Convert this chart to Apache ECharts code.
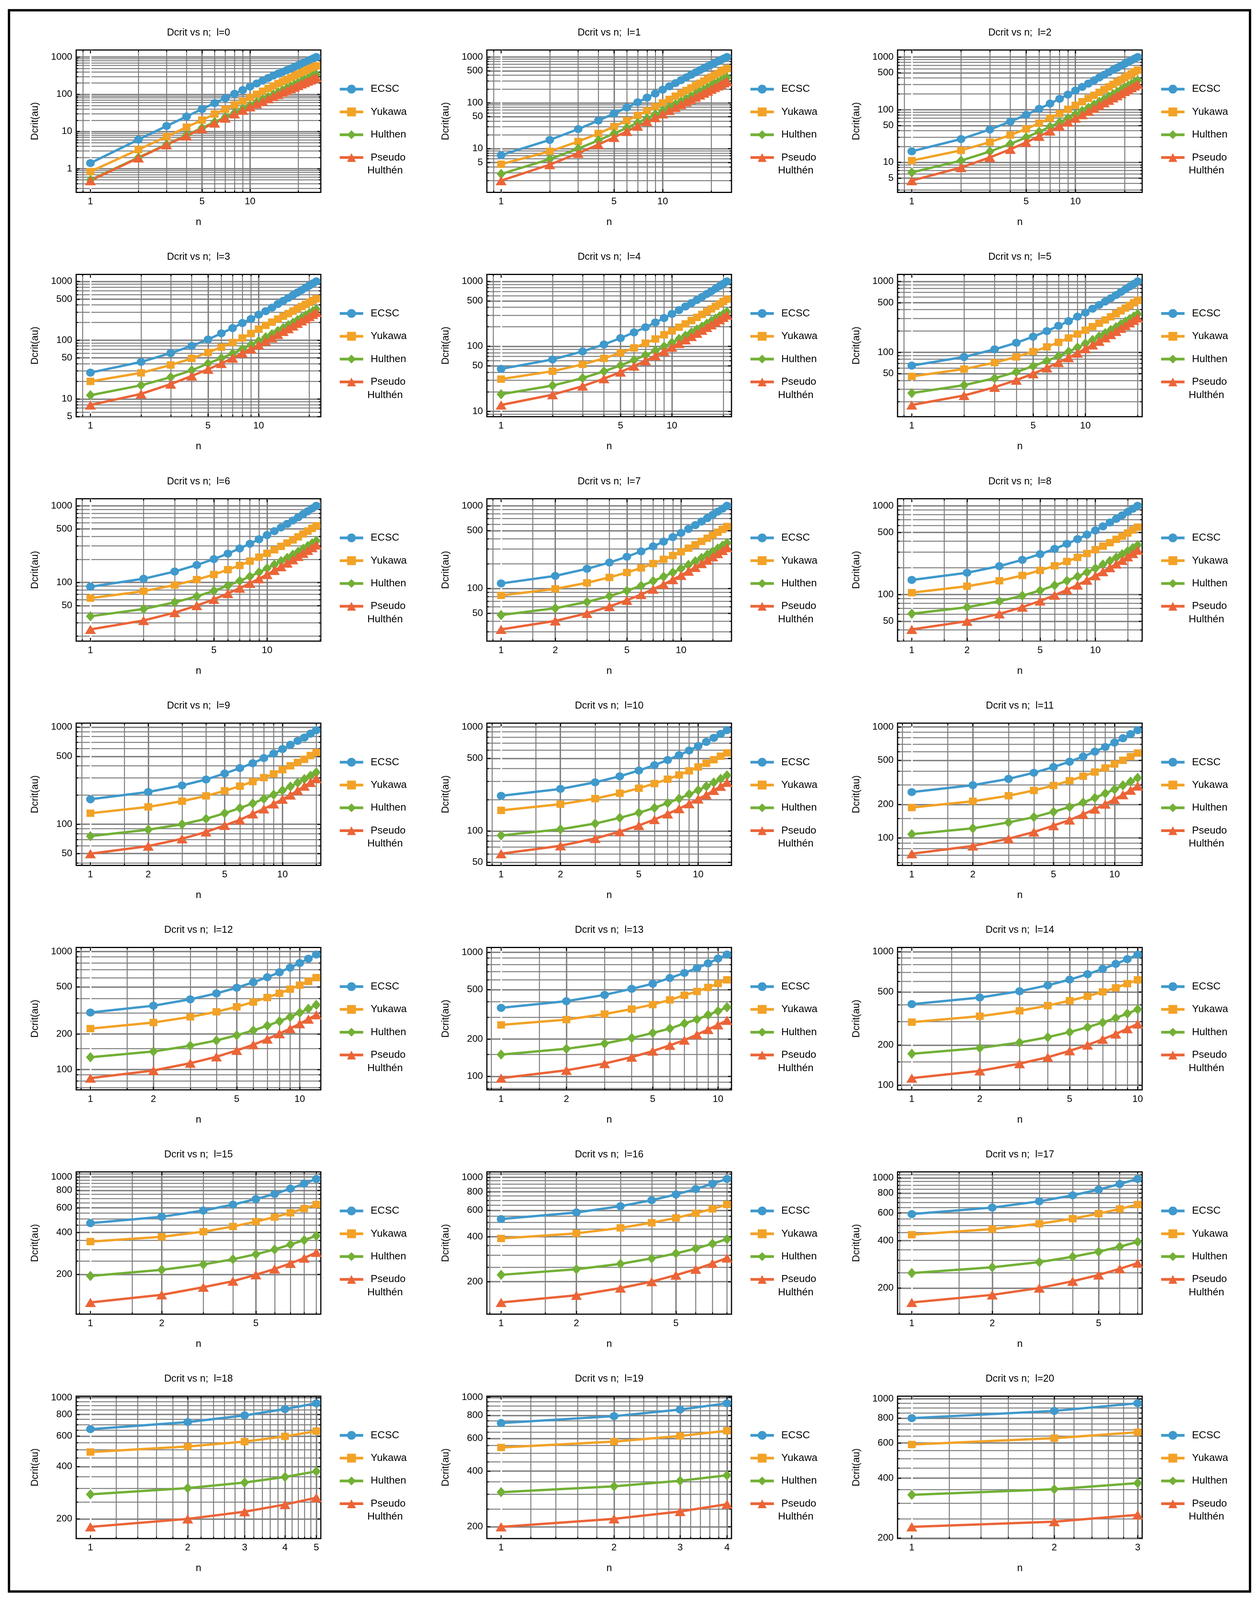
<!DOCTYPE html>
<html>
<head>
<meta charset="utf-8">
<title>Dcrit vs n</title>
<script src="https://cdn.jsdelivr.net/npm/echarts@6/dist/echarts.min.js"></script>
<style>
  html, body { margin: 0; padding: 0; background: #fff; overflow: hidden; }
  #chart { width: 3222px; height: 4350px; }
</style>
</head>
<body>
<div id="chart"></div>
<script>
'use strict';

// potentials, in legend order
var models = ['ECSC', 'Yukawa', 'Hulthen', 'Pseudo Hulthén'];

// Dcrit (au) for n = 1, 2, ... ; one row per l = 0..20
var ecsc = [
  [1.42, 6.08, 14.1, 25.3, 40.0, 58.0, 78.9, 103, 130, 161, 195, 233, 274, 318, 360, 399, 445, 492, 545, 600, 662, 721, 788, 852, 925, 1000],
  [7.2, 15.5, 26.7, 41.0, 58.5, 79.1, 103, 130, 160, 194, 230, 270, 314, 360, 410, 462, 518, 572, 628, 686, 746, 807, 870, 934, 1000],
  [16.2, 27.7, 42.1, 59.5, 80.1, 104, 131, 161, 194, 231, 271, 314, 360, 410, 462, 518, 572, 628, 686, 746, 807, 870, 934, 1000],
  [28.1, 42.7, 60.4, 80, 103, 131, 161, 196, 230, 272, 312, 358, 413, 468, 525, 585, 648, 713, 781, 852, 924, 1000],
  [45.0, 62.8, 83.5, 107, 134, 164, 197, 233, 273, 316, 362, 411, 464, 519, 578, 640, 706, 774, 846, 922, 1000],
  [64.8, 85.8, 110, 136, 166, 199, 236, 275, 318, 363, 412, 465, 520, 579, 642, 707, 775, 847, 922, 1000],
  [88.2, 112, 139, 169, 202, 238, 278, 320, 366, 415, 467, 522, 581, 643, 708, 776, 848, 923, 1000],
  [115, 142, 173, 206, 242, 281, 323, 369, 418, 470, 525, 583, 645, 710, 778, 850, 924, 1000],
  [146, 176, 209, 246, 285, 327, 373, 421, 473, 528, 586, 648, 713, 781, 852, 926, 1000],
  [181, 215, 251, 289, 333, 379, 425, 480, 535, 594, 658, 721, 781, 856, 930],
  [218, 254, 294, 336, 382, 430, 482, 537, 595, 656, 720, 787, 859, 933],
  [259, 299, 341, 387, 436, 487, 542, 600, 661, 725, 792, 863, 937],
  [304, 347, 393, 441, 493, 548, 605, 666, 730, 798, 868, 942],
  [357, 404, 454, 508, 558, 621, 682, 747, 815, 891, 960],
  [405, 454, 506, 561, 619, 680, 744, 811, 881, 954],
  [466, 518, 574, 633, 693, 754, 824, 895, 967],
  [525, 581, 640, 702, 767, 834, 905, 975],
  [589, 648, 710, 775, 842, 914, 985],
  [658, 723, 790, 859, 928],
  [728, 793, 861, 931],
  [800, 870, 950]
];

var yukawa = [
  [0.84, 3.28, 7.29, 13.1, 20.3, 29.5, 39.7, 51.8, 65.6, 82, 100, 121, 144, 167, 194, 220, 249, 279, 310, 344, 379, 416, 455, 495, 538, 581],
  [4.56, 8.71, 14.3, 21.4, 30.3, 40.9, 53.1, 67.1, 82.8, 100, 119, 140, 162, 186, 212, 239, 268, 299, 331, 365, 401, 438, 477, 518, 560],
  [10.8, 16.9, 24.2, 33.0, 43.3, 55.4, 69.2, 84.7, 102, 121, 142, 164, 188, 214, 242, 271, 302, 334, 369, 405, 442, 482, 523, 565],
  [19.9, 27.8, 37.9, 49.0, 61.8, 76.2, 91.2, 109, 130, 154, 179, 203, 229, 256, 284, 313, 343, 374, 406, 440, 474, 509],
  [31.3, 41.4, 52.7, 65.3, 79.3, 94.7, 112, 130, 151, 173, 197, 222, 250, 279, 310, 343, 377, 414, 452, 491, 533],
  [45.6, 57.9, 71.3, 85.9, 102, 119, 138, 159, 181, 205, 230, 257, 286, 317, 350, 385, 421, 459, 499, 540],
  [62.6, 77.1, 92.6, 109, 127, 147, 167, 190, 214, 240, 267, 296, 327, 359, 394, 430, 468, 508, 549],
  [82.4, 98.9, 117, 136, 156, 177, 200, 225, 250, 278, 307, 338, 371, 405, 441, 479, 519, 561],
  [105, 124, 143, 164, 187, 211, 236, 262, 290, 320, 351, 384, 419, 455, 493, 533, 574],
  [130, 151, 173, 196, 221, 247, 275, 302, 330, 365, 400, 433, 466, 510, 548],
  [158, 181, 205, 231, 258, 286, 315, 346, 379, 413, 448, 485, 524, 564],
  [188, 214, 240, 268, 297, 328, 360, 393, 428, 464, 501, 541, 582],
  [222, 250, 279, 308, 340, 373, 407, 442, 479, 518, 558, 600],
  [260, 287, 318, 349, 379, 414, 451, 484, 521, 561, 600],
  [297, 329, 361, 395, 430, 464, 501, 537, 577, 616],
  [344, 372, 405, 441, 478, 515, 553, 593, 634],
  [389, 421, 458, 496, 534, 574, 614, 657],
  [436, 473, 512, 551, 593, 635, 677],
  [486, 523, 558, 598, 641],
  [537, 578, 620, 661],
  [590, 635, 680]
];

var hulthen = [
  [0.5, 2, 4.5, 8, 12.5, 18, 24.5, 32, 40.5, 50, 60.5, 72, 84.5, 98, 112.5, 128, 144.5, 162, 180.5, 200, 220.5, 242, 264.5, 288, 312.5, 338],
  [2.8, 5.90, 10.0, 15.2, 21.3, 28.5, 36.7, 45.9, 56.1, 67.3, 79.5, 92.6, 107, 122, 138, 155, 174, 193, 213, 234, 257, 280, 304, 329, 355],
  [6.44, 10.8, 16.1, 22.4, 29.8, 38.1, 47.5, 57.8, 69.2, 81.5, 94.8, 109, 125, 141, 158, 177, 196, 216, 238, 260, 284, 308, 333, 360],
  [11.6, 17.1, 23.5, 30.7, 40.2, 49.5, 59.3, 71, 83.4, 96.8, 112, 127, 144, 161, 180, 199, 220, 241, 264, 287, 312, 337],
  [18.3, 24.9, 32.5, 41.2, 50.9, 61.5, 73.2, 85.8, 99.5, 114, 130, 146, 164, 183, 202, 223, 245, 267, 291, 316, 341],
  [26.5, 34.3, 43.0, 52.8, 63.6, 75.4, 88.1, 102, 117, 133, 149, 167, 186, 206, 226, 248, 271, 295, 320, 346],
  [36.3, 45.2, 55.1, 66.0, 77.9, 90.9, 105, 120, 136, 153, 171, 190, 209, 230, 252, 275, 299, 324, 350],
  [47.7, 57.7, 68.7, 80.8, 93.9, 108, 123, 139, 156, 174, 193, 213, 234, 257, 280, 304, 329, 355],
  [60.8, 71.9, 84.0, 97.2, 111, 127, 143, 160, 178, 197, 218, 239, 261, 284, 308, 334, 360],
  [75.5, 88, 100, 114, 130, 147, 164, 183, 202, 223, 245, 268, 292, 316, 342],
  [90.8, 104, 118, 134, 150, 167, 186, 205, 226, 247, 269, 293, 317, 343],
  [108, 122, 138, 154, 172, 190, 209, 230, 252, 274, 298, 322, 348],
  [127, 142, 159, 176, 195, 214, 235, 256, 279, 303, 327, 353],
  [150, 167, 184, 204, 224, 243, 267, 288, 313, 336, 361],
  [172, 190, 209, 229, 250, 272, 295, 319, 344, 370],
  [195, 216, 236, 257, 279, 302, 328, 352, 379],
  [222, 242, 263, 286, 309, 333, 359, 385],
  [249, 271, 292, 316, 340, 366, 393],
  [277, 301, 324, 349, 376],
  [308, 331, 355, 380],
  [330, 352, 378]
];

var pseudoHulthen = [
  [0.48, 1.96, 4.41, 7.68, 11.9, 16.9, 23.0, 29.8, 37.3, 46, 55.1, 64.8, 76.1, 87.2, 99, 113, 126, 141, 155, 172, 190, 206, 225, 242, 263, 284],
  [2.0, 4.47, 7.92, 12.3, 17.6, 23.8, 31.0, 39.0, 47.8, 57.6, 68.1, 79.4, 91.7, 105, 118, 133, 148, 164, 180, 198, 216, 234, 254, 274, 294],
  [4.5, 7.97, 12.4, 17.7, 24.1, 31.3, 39.4, 48.5, 58.4, 69.1, 80.8, 93.3, 107, 121, 136, 151, 168, 185, 203, 222, 242, 262, 283, 304],
  [7.9, 12.2, 17.9, 24.6, 32.1, 40.2, 49.5, 60.4, 71, 83.4, 96, 110, 125, 141, 157, 175, 194, 213, 232, 253, 275, 297],
  [12.5, 18.0, 24.4, 31.8, 40.2, 49.6, 60.0, 71.3, 83.6, 96.9, 111, 126, 142, 159, 177, 196, 215, 236, 258, 280, 303],
  [18.0, 24.5, 32.0, 40.4, 49.8, 60.2, 71.6, 84.0, 97.3, 112, 127, 143, 160, 178, 197, 218, 238, 260, 283, 306],
  [24.5, 32.0, 40.5, 50.0, 60.4, 71.9, 84.3, 97.7, 112, 127, 144, 161, 179, 198, 219, 240, 262, 285, 309],
  [32, 40.5, 50, 60.5, 72, 84.5, 98, 112, 128, 144, 162, 180, 200, 220, 242, 264, 288, 312],
  [40.5, 50, 60.5, 72.1, 84.6, 98.2, 113, 128, 145, 163, 181, 201, 221, 243, 266, 290, 316],
  [49.8, 59.7, 71, 83.4, 97.5, 111, 128, 144, 162, 181, 200, 223, 247, 270, 295],
  [60.5, 72.1, 84.8, 98.5, 113, 129, 146, 164, 183, 203, 223, 246, 269, 294],
  [72, 84.6, 98.3, 113, 129, 145, 163, 182, 202, 223, 245, 269, 294],
  [84.5, 98, 113, 128, 145, 162, 181, 201, 222, 244, 267, 291],
  [96.9, 112, 127, 143, 160, 178, 196, 217, 239, 260, 283],
  [113, 128, 145, 162, 181, 200, 221, 242, 265, 288],
  [126, 143, 162, 179, 199, 219, 240, 262, 288],
  [145, 162, 181, 200, 221, 242, 265, 288],
  [162, 181, 200, 221, 242, 265, 288],
  [180, 200, 220, 242, 265],
  [200, 221, 242, 265],
  [228, 242, 262]
];

// y tick labels per l
var yTickLabels = [
  [1, 10, 100, 1000],
  [5, 10, 50, 100, 500, 1000],
  [5, 10, 50, 100, 500, 1000],
  [5, 10, 50, 100, 500, 1000],
  [10, 50, 100, 500, 1000],
  [50, 100, 500, 1000], [50, 100, 500, 1000], [50, 100, 500, 1000],
  [50, 100, 500, 1000], [50, 100, 500, 1000], [50, 100, 500, 1000],
  [100, 200, 500, 1000], [100, 200, 500, 1000], [100, 200, 500, 1000], [100, 200, 500, 1000],
  [200, 400, 600, 800, 1000], [200, 400, 600, 800, 1000], [200, 400, 600, 800, 1000],
  [200, 400, 600, 800, 1000], [200, 400, 600, 800, 1000], [200, 400, 600, 800, 1000]
];

// x tick labels / grid lines, by how many n the panel has
var xLabelsWide = [1, 5, 10];
var xLabelsMid = [1, 2, 5, 10];
var xLabelsShort = [1, 2, 5];
var xGridWide = [0.9, 2, 3, 4, 5, 6, 7, 8, 9, 10, 20];
var xGridMid = [0.9, 1.5, 2, 3, 4, 5, 6, 7, 8, 9, 10, 15];
var xGridShort = [0.9, 1.5, 2, 3, 4, 5, 6, 7, 8, 9];
var yGridMults = [1, 2, 3, 4, 5, 6, 7, 8, 9];
var yGridMultsHalf = [1, 1.5, 2, 3, 4, 5, 6, 7, 8, 9];

var FONT = '"Liberation Sans", Arial, sans-serif';
var colors = ['#3f99cc', '#f2a226', '#72b036', '#eb6437'];
var symbols = ['circle', 'rect', 'diamond', 'triangle'];

// the page may get a shorter window than the 3222x4350 design; squeeze vertically to fit
var W = window.innerWidth || 3222;
var H = window.innerHeight || 4350;
var sx = W / 3222, sy = H / 4350;
var chartDom = document.getElementById('chart');
chartDom.style.width = W + 'px';
chartDom.style.height = H + 'px';

function X(v) { return v * sx; }
function Y(v) { return v * sy; }
function fs(v) { return Math.round(v * Math.min(sx, sy) * 10) / 10; }

var symbolSizes = [[X(22), Y(22)], [X(20), Y(20)], [X(23), Y(28)], [X(28), Y(25)]];

var colW = 1051, rowH = 610;
var plotLeft = 195, plotTop = 136, plotW = 626, plotH = 387;

function decadeLines(lo, hi, mults) {
  var out = [];
  for (var e = -2; e <= 4; e++) {
    mults.forEach(function (m) {
      var v = +(m * Math.pow(10, e)).toPrecision(6);
      if (v > lo && v < hi) out.push(v);
    });
  }
  return out;
}

function stepLines(lo, hi, from, to, step) {
  var out = [];
  for (var v = from; v <= to + 1e-9; v += step) {
    var r = +v.toPrecision(6);
    if (r > lo && r < hi) out.push(r);
  }
  return out;
}

var grids = [], xAxes = [], yAxes = [], series = [], legends = [], graphics = [];

graphics.push({
  type: 'rect', shape: { x: X(23), y: Y(28), width: X(3176), height: Y(4299) },
  style: { fill: 'none', stroke: '#000', lineWidth: 6 }, silent: true
});

var tickStyle = { color: '#000', width: 2.5, type: 'solid' };

for (var l = 0; l <= 20; l++) {
  var c = l % 3, r = Math.floor(l / 3);
  var ox = c * colW, oy = r * rowH;
  var count = ecsc[l].length;
  var all = ecsc[l].concat(yukawa[l], hulthen[l], pseudoHulthen[l]);
  var lo = Math.log10(Math.min.apply(null, all));
  var hi = Math.log10(Math.max.apply(null, all));
  var span = hi - lo;
  var yMin = Math.pow(10, lo - 0.095 * span);
  var yMax = Math.pow(10, hi + 0.057 * span);
  var L = Math.log10(count);
  var xMin = Math.pow(10, -0.063 * L);
  var xMax = count * Math.pow(10, 0.02 * L);

  // factor on each log axis that corresponds to a few pixels, for the frame ticks
  var fxPx = Math.log10(xMax / xMin) / plotW;
  var fyPx = Math.log10(yMax / yMin) / plotH;

  grids.push({
    left: X(plotLeft + ox), top: Y(plotTop + oy), width: X(plotW), height: Y(plotH),
    show: true, borderColor: '#000', borderWidth: 3, backgroundColor: 'transparent'
  });
  xAxes.push({
    type: 'log', gridIndex: l, min: xMin, max: xMax,
    name: 'n', nameLocation: 'middle', nameGap: Y(68),
    nameTextStyle: { fontSize: fs(27), color: '#000', fontFamily: FONT },
    axisLine: { show: false }, axisTick: { show: false },
    axisLabel: { show: false }, splitLine: { show: false }
  });
  yAxes.push({
    type: 'log', gridIndex: l, min: yMin, max: yMax,
    name: 'Dcrit(au)', nameLocation: 'middle', nameGap: X(93),
    nameTextStyle: { fontSize: fs(27), color: '#000', fontFamily: FONT },
    axisLine: { show: false }, axisTick: { show: false },
    axisLabel: { show: false }, splitLine: { show: false }
  });

  // grid lines + tick labels drawn as mark lines on the axes' scales
  var xLabels, xGrid;
  if (count >= 19) { xLabels = xLabelsWide; xGrid = xGridWide.filter(function (v) { return v > xMin && v < xMax; }); }
  else if (count >= 10) { xLabels = xLabelsMid; xGrid = xGridMid.filter(function (v) { return v > xMin && v < xMax; }); }
  else if (count >= 7) { xLabels = xLabelsShort; xGrid = xGridShort.filter(function (v) { return v > xMin && v < xMax; }); }
  else {
    xLabels = [];
    for (var k = 1; k <= count; k++) xLabels.push(k);
    xGrid = stepLines(xMin, xMax, 1.2, 5, 0.2);
  }
  var yGrid;
  if (l <= 10) yGrid = decadeLines(yMin, yMax, yGridMults);
  else if (l <= 14) yGrid = decadeLines(yMin, yMax, yGridMultsHalf);
  else yGrid = stepLines(yMin, yMax, 200, 1050, 50);

  var yLab = yTickLabels[l];
  var items = [], ticks = [];
  yGrid.forEach(function (v) {
    var lab = yLab.indexOf(v) >= 0;
    items.push({
      yAxis: v,
      lineStyle: { color: '#7d7d7d', width: lab ? 3.5 : 2.5, type: 'solid' },
      label: { show: lab, formatter: String(v), distance: X(10) }
    });
    var f = Math.pow(10, fxPx * (lab ? 9 : 5));
    ticks.push([{ coord: [xMin, v], lineStyle: tickStyle }, { coord: [xMin * f, v] }]);
    ticks.push([{ coord: [xMax / f, v], lineStyle: tickStyle }, { coord: [xMax, v] }]);
  });
  xGrid.concat([1]).forEach(function (v) {
    var lab = xLabels.indexOf(v) >= 0;
    if (v !== 1) {
      items.push({
        xAxis: v,
        lineStyle: { color: '#7d7d7d', width: lab ? 3.5 : 2.5, type: 'solid' },
        label: { show: lab, formatter: String(v), distance: Y(12) }
      });
    }
    var f = Math.pow(10, fyPx * (lab ? 9 : 5));
    ticks.push([{ coord: [v, yMin], lineStyle: tickStyle }, { coord: [v, yMin * f] }]);
    ticks.push([{ coord: [v, yMax / f], lineStyle: tickStyle }, { coord: [v, yMax] }]);
  });
  items.push({
    xAxis: 1,
    lineStyle: { color: '#ffffff', width: 4, type: 'solid' },
    label: { show: true, formatter: '1', distance: Y(12) }
  });

  series.push({
    type: 'line', name: 'grid' + l, data: [], xAxisIndex: l, yAxisIndex: l,
    silent: true, z: 1,
    markLine: {
      silent: true, symbol: 'none', z: 1, animation: false,
      label: { show: false, position: 'start', fontSize: fs(26), color: '#000', fontFamily: FONT },
      lineStyle: { type: 'solid', color: '#7d7d7d', width: 2.5 },
      emphasis: { disabled: true },
      data: items.concat(ticks)
    }
  });

  var rows = [ecsc[l], yukawa[l], hulthen[l], pseudoHulthen[l]];
  rows.forEach(function (vals, s) {
    series.push({
      type: 'line', name: models[s], xAxisIndex: l, yAxisIndex: l, z: 2,
      data: vals.map(function (v, i) { return [i + 1, v]; }),
      symbol: symbols[s], symbolSize: symbolSizes[s],
      lineStyle: { width: 6, color: colors[s] },
      itemStyle: { color: colors[s] },
      emphasis: { disabled: true }
    });
  });

  legends.push({
    data: models, orient: 'vertical', left: X(861 + ox), top: Y(222 + oy),
    itemWidth: X(60), itemHeight: Y(30), itemGap: Y(32), selectedMode: false,
    lineStyle: { width: 7 },
    textStyle: { fontSize: fs(28), color: '#000', fontFamily: FONT, lineHeight: Y(30), padding: [0, 0, 0, X(14)] },
    formatter: function (name) { return name === 'Pseudo Hulthén' ? 'Pseudo' : name; }
  });

  graphics.push({
    type: 'text', x: X(508 + ox), y: Y(89 + oy), silent: true,
    style: {
      text: 'Dcrit vs n;  l=' + l, font: fs(27) + 'px ' + FONT, fill: '#000',
      align: 'center', verticalAlign: 'middle', textAlign: 'center', textVerticalAlign: 'middle'
    }
  });
  graphics.push({
    type: 'text', x: X(940 + ox), y: Y(464 + oy), silent: true,
    style: {
      text: 'Hulthén', font: fs(28) + 'px ' + FONT, fill: '#000',
      align: 'left', verticalAlign: 'middle', textAlign: 'left', textVerticalAlign: 'middle'
    }
  });
}

var chart = echarts.init(chartDom, null, { renderer: 'canvas', width: W, height: H });
chart.setOption({
  backgroundColor: '#fff',
  animation: false,
  textStyle: { fontFamily: FONT },
  grid: grids,
  xAxis: xAxes,
  yAxis: yAxes,
  legend: legends,
  graphic: graphics,
  series: series
});
</script>
</body>
</html>
